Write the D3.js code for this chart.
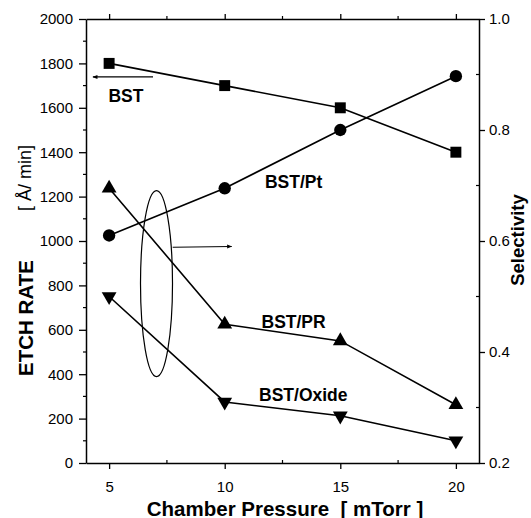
<!DOCTYPE html>
<html>
<head>
<meta charset="utf-8">
<script src="https://cdn.jsdelivr.net/npm/d3@7"></script>
<style>
  body { margin: 0; background: #fff; }
  text { font-family: Arial, "Liberation Sans", sans-serif; fill: #000; }
</style>
</head>
<body>
<svg id="chart"></svg>
<script>
// data
const pressure = [5, 10, 15, 20];            // mTorr
const bstRate = [1800, 1700, 1600, 1400];    // etch rate, A/min (left axis)
const selPt = [0.61, 0.695, 0.80, 0.897];    // selectivity (right axis)
const selPR = [0.695, 0.45, 0.42, 0.305];
const selOxide = [0.50, 0.31, 0.285, 0.24];

const leftTicks = [0, 200, 400, 600, 800, 1000, 1200, 1400, 1600, 1800, 2000];
const rightTicks = [0.2, 0.4, 0.6, 0.8, 1.0];
const xTicks = [5, 10, 15, 20];

const width = 531, height = 518;
const svg = d3.select('#chart').attr('width', width).attr('height', height);

const x = d3.scaleLinear().domain([4, 21]).range([86, 479]);
const yL = d3.scaleLinear().domain([0, 2000]).range([463, 19]);
const yR = d3.scaleLinear().domain([0.2, 1.0]).range([463, 19]);

const font = 'Arial, "Liberation Sans", sans-serif';

function styleAxis(g) {
  g.selectAll('path.domain').attr('stroke', '#000').attr('stroke-width', 1.5);
  g.selectAll('.tick line').attr('stroke', '#000').attr('stroke-width', 1.3);
  g.selectAll('.tick text').attr('font-size', 15).attr('font-family', font);
}

// minor ticks
const minorL = d3.range(100, 2000, 200);
const minorR = d3.range(0.3, 1.0, 0.2);
const minorX = [7.5, 12.5, 17.5];

// left axis
const gl = svg.append('g').attr('transform', `translate(${x(4)},0)`)
  .call(d3.axisLeft(yL).tickValues(leftTicks).tickFormat(d3.format('d')).tickSize(7).tickPadding(6).tickSizeOuter(0));
styleAxis(gl);
gl.selectAll('.minor').data(minorL).enter().append('line')
  .attr('x1', -3).attr('x2', 0).attr('y1', d => yL(d)).attr('y2', d => yL(d))
  .attr('stroke', '#000').attr('stroke-width', 1.2);

// right axis
const gr = svg.append('g').attr('transform', `translate(${x(21)},0)`)
  .call(d3.axisRight(yR).tickValues(rightTicks).tickFormat(d3.format('.1f')).tickSize(6).tickPadding(4).tickSizeOuter(0));
styleAxis(gr);
gr.selectAll('.minor').data(minorR).enter().append('line')
  .attr('x1', -3).attr('x2', 0).attr('y1', d => yR(d)).attr('y2', d => yR(d))
  .attr('stroke', '#000').attr('stroke-width', 1.2);

// bottom axis
const gb = svg.append('g').attr('transform', `translate(0,${yL(0)})`)
  .call(d3.axisBottom(x).tickValues(xTicks).tickSize(6).tickPadding(12).tickSizeOuter(0));
styleAxis(gb);
gb.selectAll('.minor').data(minorX).enter().append('line')
  .attr('y1', -3).attr('y2', 0).attr('x1', d => x(d)).attr('x2', d => x(d))
  .attr('stroke', '#000').attr('stroke-width', 1.2);

// top frame
const gt = svg.append('g').attr('transform', `translate(0,${yL(2000)})`)
  .call(d3.axisTop(x).tickValues(xTicks).tickSize(5).tickFormat('').tickSizeOuter(0));
styleAxis(gt);
gt.selectAll('.minor').data(minorX).enter().append('line')
  .attr('y1', -3).attr('y2', 0).attr('x1', d => x(d)).attr('x2', d => x(d))
  .attr('stroke', '#000').attr('stroke-width', 1.2);

// series
const series = [
  { vals: bstRate, y: yL, sym: d3.symbolSquare, size: 120, rot: 0 },
  { vals: selPt, y: yR, sym: d3.symbolCircle, size: 120, rot: 0 },
  { vals: selPR, y: yR, sym: d3.symbolTriangle, size: 95, rot: 0 },
  { vals: selOxide, y: yR, sym: d3.symbolTriangle, size: 95, rot: 180 }
];

series.forEach(s => {
  const pts = pressure.map((p, i) => [x(p), s.y(s.vals[i])]);
  svg.append('path')
    .attr('d', d3.line()(pts))
    .attr('fill', 'none')
    .attr('stroke', '#000')
    .attr('stroke-width', 1.6);
  svg.selectAll(null).data(pts).enter().append('path')
    .attr('d', d3.symbol().type(s.sym).size(s.size))
    .attr('transform', d => `translate(${d[0]},${d[1]}) rotate(${s.rot})`)
    .attr('fill', '#000');
});

// arrow markers
const defs = svg.append('defs');
defs.append('marker')
  .attr('id', 'arr')
  .attr('viewBox', '0 -5 10 10')
  .attr('refX', 9).attr('refY', 0)
  .attr('markerWidth', 7).attr('markerHeight', 5)
  .attr('markerUnits', 'userSpaceOnUse')
  .attr('orient', 'auto')
  .append('path').attr('d', 'M0,-4L10,0L0,4Z').attr('fill', '#000');

// BST -> left axis arrow
svg.append('line')
  .attr('x1', x(6.9)).attr('y1', yL(1739))
  .attr('x2', x(4.3)).attr('y2', yL(1739))
  .attr('stroke', '#000').attr('stroke-width', 1.2)
  .attr('marker-end', 'url(#arr)');

// ellipse grouping the selectivity curves, arrow to right axis
svg.append('ellipse')
  .attr('cx', x(7.05)).attr('cy', yL(808))
  .attr('rx', 16).attr('ry', 93)
  .attr('fill', 'none').attr('stroke', '#000').attr('stroke-width', 1.2);
svg.append('line')
  .attr('x1', x(7.75)).attr('y1', yL(972))
  .attr('x2', x(10.3)).attr('y2', yL(975))
  .attr('stroke', '#000').attr('stroke-width', 1.1)
  .attr('marker-end', 'url(#arr)');

// series labels
const labels = [
  { t: 'BST', px: 5.73, v: 1653 },
  { t: 'BST/Pt', px: 12.98, v: 1266 },
  { t: 'BST/PR', px: 12.98, v: 635 },
  { t: 'BST/Oxide', px: 13.4, v: 306 }
];
svg.selectAll('.lbl').data(labels).enter().append('text')
  .attr('class', 'lbl')
  .attr('x', d => x(d.px)).attr('y', d => yL(d.v))
  .attr('text-anchor', 'middle').attr('dominant-baseline', 'central')
  .attr('font-size', 17.5).attr('font-weight', 'bold')
  .text(d => d.t);

// axis titles
svg.append('text')
  .attr('transform', 'translate(25,318) rotate(-90)')
  .attr('text-anchor', 'middle').attr('dominant-baseline', 'central')
  .attr('font-size', 20.5).attr('font-weight', 'bold')
  .text('ETCH RATE');
svg.append('text')
  .attr('transform', 'translate(25,178) rotate(-90)')
  .attr('text-anchor', 'middle').attr('dominant-baseline', 'central')
  .attr('font-size', 18)
  .text('[ Å/ min]');
svg.append('text')
  .attr('transform', 'translate(517,240) rotate(-90)')
  .attr('text-anchor', 'middle').attr('dominant-baseline', 'central')
  .attr('font-size', 18.5).attr('font-weight', 'bold')
  .text('Selectivity');
svg.append('text')
  .attr('x', 285).attr('y', 508)
  .attr('text-anchor', 'middle').attr('dominant-baseline', 'central')
  .attr('font-size', 20.5).attr('font-weight', 'bold')
  .attr('xml:space', 'preserve')
  .text('Chamber Pressure  [ mTorr ]');
</script>
</body>
</html>
